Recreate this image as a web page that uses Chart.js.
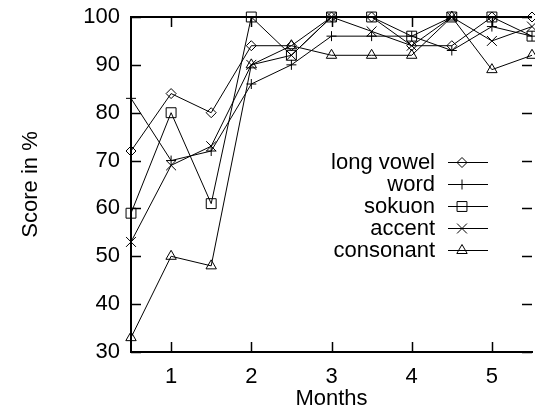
<!DOCTYPE html>
<html><head><meta charset="utf-8">
<script src="https://cdn.jsdelivr.net/npm/chart.js@4/dist/chart.umd.min.js"></script>
<style>
html,body{margin:0;padding:0;background:#fff;overflow:hidden}
#wrap{width:535px;height:410px;overflow:hidden;position:relative;background:#fff}
canvas{display:block}
</style></head>
<body><div id="wrap"><canvas id="c" width="540" height="410"></canvas></div>
<script>
// ---- data ----
const months    = [0.5, 1, 1.5, 2, 2.5, 3, 3.5, 4, 4.5, 5, 5.5];
const longVowel = [72, 84, 80, 94, 94, 100, 100, 94, 94, 100, 100];
const word      = [83, 70, 72, 86, 90, 96, 96, 96, 93, 98, 96];
const sokuon    = [59, 80, 61, 100, 92, 100, 100, 96, 100, 100, 96];
const accent    = [53, 69, 73, 90, 92, 100, 97, 94, 100, 95, 98];
const consonant = [33, 50, 48, 90, 94, 92, 92, 92, 100, 89, 92];
const xTicks = [1, 2, 3, 4, 5];
const yTicks = [30, 40, 50, 60, 70, 80, 90, 100];

const FONT = '"Liberation Sans", Arial, Helvetica, sans-serif';

function mk(label, values, style, radius) {
  return {
    label: label,
    data: values.map((v, i) => ({x: months[i], y: v})),
    pointStyle: style, pointRadius: radius, pointHoverRadius: radius,
    borderColor: '#000', backgroundColor: 'rgba(0,0,0,0)',
    pointBackgroundColor: 'rgba(0,0,0,0)', pointBorderColor: '#000',
    pointBorderWidth: 1, borderWidth: 1, tension: 0, fill: false, clip: false
  };
}

function drawMarker(ctx, style, r, x, y) {
  ctx.beginPath();
  if (style === 'rectRot') {
    ctx.moveTo(x - r, y); ctx.lineTo(x, y - r); ctx.lineTo(x + r, y); ctx.lineTo(x, y + r); ctx.closePath();
  } else if (style === 'rect') {
    const s = Math.SQRT1_2 * r; ctx.rect(x - s, y - s, 2 * s, 2 * s);
  } else if (style === 'cross') {
    ctx.moveTo(x, y - r); ctx.lineTo(x, y + r); ctx.moveTo(x - r, y); ctx.lineTo(x + r, y);
  } else if (style === 'crossRot') {
    const s = Math.SQRT1_2 * r;
    ctx.moveTo(x - s, y - s); ctx.lineTo(x + s, y + s); ctx.moveTo(x + s, y - s); ctx.lineTo(x - s, y + s);
  } else if (style === 'triangle') {
    ctx.moveTo(x, y - r); ctx.lineTo(x + 0.866 * r, y + 0.5 * r); ctx.lineTo(x - 0.866 * r, y + 0.5 * r); ctx.closePath();
  }
  ctx.stroke();
}

const framePlugin = {
  id: 'frame',
  beforeDatasetsDraw(chart) {
    const {ctx, chartArea: a} = chart;
    const xs = chart.scales.x, ys = chart.scales.y;
    ctx.save();
    ctx.strokeStyle = '#000';
    ctx.lineWidth = 2;
    ctx.beginPath(); ctx.moveTo(a.left - 1, a.top); ctx.lineTo(a.right, a.top); ctx.stroke();
    ctx.lineWidth = 1.5;
    ctx.beginPath();
    xTicks.forEach(t => {
      const px = Math.round(xs.getPixelForValue(t)) + 0.5;
      ctx.moveTo(px, a.bottom); ctx.lineTo(px, a.bottom - 10);
      ctx.moveTo(px, a.top); ctx.lineTo(px, a.top + 10);
    });
    yTicks.forEach(t => {
      const py = Math.round(ys.getPixelForValue(t)) + 0.5;
      ctx.moveTo(a.left, py); ctx.lineTo(a.left + 10, py);
      ctx.moveTo(a.right, py); ctx.lineTo(a.right - 10, py);
    });
    ctx.stroke();
    ctx.restore();
  },
  afterDatasetsDraw(chart) {
    const ctx = chart.ctx;
    ctx.save();
    ctx.font = '22px ' + FONT;
    ctx.fillStyle = '#000'; ctx.strokeStyle = '#000'; ctx.lineWidth = 1;
    ctx.textAlign = 'right'; ctx.textBaseline = 'middle';
    chart.data.datasets.forEach((ds, i) => {
      const y = 162 + i * 22;
      ctx.fillText(ds.label, 435, y + 1);
      ctx.beginPath(); ctx.moveTo(448, y + 0.5); ctx.lineTo(488, y + 0.5); ctx.stroke();
      drawMarker(ctx, ds.pointStyle, ds.pointRadius, 462, y + 0.5);
    });
    ctx.restore();
  }
};

const tickFont = {family: FONT, size: 22};

new Chart(document.getElementById('c'), {
  type: 'line',
  data: {
    datasets: [
      mk('long vowel', longVowel, 'rectRot', 5),
      mk('word', word, 'cross', 5),
      mk('sokuon', sokuon, 'rect', 7),
      mk('accent', accent, 'crossRot', 7),
      mk('consonant', consonant, 'triangle', 6)
    ]
  },
  options: {
    responsive: false, animation: false, devicePixelRatio: 1, events: [],
    layout: {padding: {left: 0, right: 4.5, top: 17, bottom: 0}},
    plugins: {legend: {display: false}, tooltip: {enabled: false}},
    scales: {
      x: {
        type: 'linear', min: 0.5, max: 5.5,
        grid: {display: false, drawTicks: false},
        border: {display: true, color: '#000', width: 2},
        afterBuildTicks: s => { s.ticks = xTicks.map(v => ({value: v})); },
        afterFit: s => { s.height = 58; s.paddingLeft = 0; s.paddingRight = 0; s.paddingTop = 0; s.paddingBottom = 0; },
        ticks: {color: '#000', font: tickFont, padding: 12, maxRotation: 0, autoSkip: false,
                callback: v => String(v)},
        title: {display: true, text: 'Months', color: '#000', font: tickFont, padding: {top: 0, bottom: -2}}
      },
      y: {
        type: 'linear', min: 30, max: 100,
        grid: {display: false, drawTicks: false},
        border: {display: true, color: '#000', width: 2},
        afterBuildTicks: s => { s.ticks = yTicks.map(v => ({value: v})); },
        afterFit: s => { s.width = 131; s.paddingLeft = 0; s.paddingRight = 0; s.paddingTop = 0; s.paddingBottom = 0; },
        ticks: {color: '#000', font: tickFont, padding: 11, autoSkip: false, callback: v => String(v)},
        title: {display: true, text: 'Score in %', color: '#000', font: tickFont, padding: {top: 18, bottom: 0}}
      }
    }
  },
  plugins: [framePlugin]
});
</script>
</body></html>
